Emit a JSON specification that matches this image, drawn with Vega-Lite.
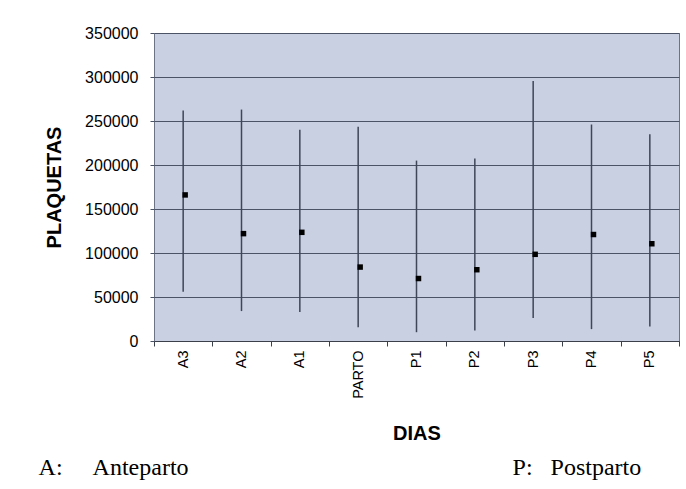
{
  "$schema": "https://vega.github.io/schema/vega-lite/v6.json",
  "autosize": {"type": "none"},
  "width": 525,
  "height": 308,
  "padding": {"left": 154, "top": 33, "right": 7, "bottom": 148},
  "background": "white",
  "config": {
    "font": "Liberation Sans",
    "view": {"fill": "#c9d0e2", "stroke": "#6b7385", "strokeWidth": 1}
  },
  "title": {
    "text": "A:\u00a0\u00a0\u00a0\u00a0\u00a0Anteparto\u00a0\u00a0\u00a0\u00a0\u00a0\u00a0\u00a0\u00a0\u00a0\u00a0\u00a0\u00a0\u00a0\u00a0\u00a0\u00a0\u00a0\u00a0\u00a0\u00a0\u00a0\u00a0\u00a0\u00a0\u00a0\u00a0\u00a0\u00a0\u00a0\u00a0\u00a0\u00a0\u00a0\u00a0\u00a0\u00a0\u00a0\u00a0\u00a0\u00a0\u00a0\u00a0\u00a0\u00a0\u00a0\u00a0\u00a0\u00a0\u00a0\u00a0\u00a0\u00a0\u00a0\u00a0P:\u00a0\u00a0\u00a0Postparto",
    "orient": "bottom",
    "anchor": "start",
    "frame": "bounds",
    "font": "Liberation Serif",
    "fontSize": 24,
    "fontWeight": "normal",
    "color": "black",
    "offset": 13,
    "dx": -6
  },
  "data": {
    "values": [
      {"dia": "A3", "min": 56000, "max": 262000, "media": 166000},
      {"dia": "A2", "min": 34000, "max": 263000, "media": 122000},
      {"dia": "A1", "min": 33000, "max": 240000, "media": 123500},
      {"dia": "PARTO", "min": 15500, "max": 243500, "media": 84000},
      {"dia": "P1", "min": 10000, "max": 205000, "media": 71000},
      {"dia": "P2", "min": 12000, "max": 207500, "media": 81000},
      {"dia": "P3", "min": 26000, "max": 295500, "media": 98500},
      {"dia": "P4", "min": 13500, "max": 246000, "media": 121000},
      {"dia": "P5", "min": 16500, "max": 235000, "media": 110500}
    ]
  },
  "encoding": {
    "x": {
      "field": "dia",
      "type": "nominal",
      "sort": null,
      "scale": {"type": "band", "paddingInner": 0, "paddingOuter": 0},
      "axis": {
        "title": "DIAS",
        "titleFontSize": 20,
        "titleFontWeight": "bold",
        "titleColor": "black",
        "titlePadding": 25,
        "tickBand": "extent",
        "labelAngle": -90,
        "labelAlign": "right",
        "labelBaseline": "middle",
        "labelFontSize": 14.5,
        "labelColor": "black",
        "labelPadding": 4,
        "tickSize": 5,
        "tickColor": "#3a3f4a",
        "domainColor": "#3a3f4a",
        "grid": false
      }
    }
  },
  "layer": [
    {
      "mark": {"type": "rule", "color": "#3e4657", "strokeWidth": 1.5},
      "encoding": {
        "y": {
          "field": "min",
          "type": "quantitative",
          "scale": {"domain": [0, 350000], "nice": false},
          "axis": {
            "title": "PLAQUETAS",
            "titleFontSize": 20,
            "titleFontWeight": "bold",
            "titleColor": "black",
            "titlePadding": 20,
            "values": [0, 50000, 100000, 150000, 200000, 250000, 300000, 350000],
            "format": "d",
            "labelFontSize": 16,
            "labelColor": "black",
            "labelPadding": 12,
            "tickSize": 4,
            "tickColor": "#4a5466",
            "domain": false,
            "grid": true,
            "gridColor": "#4a5466",
            "gridWidth": 1.2,
            "gridOpacity": 1
          }
        },
        "y2": {"field": "max"}
      }
    },
    {
      "mark": {"type": "square", "color": "black", "size": 30, "opacity": 1, "filled": true, "xOffset": 2},
      "encoding": {
        "y": {"field": "media", "type": "quantitative"}
      }
    }
  ]
}
